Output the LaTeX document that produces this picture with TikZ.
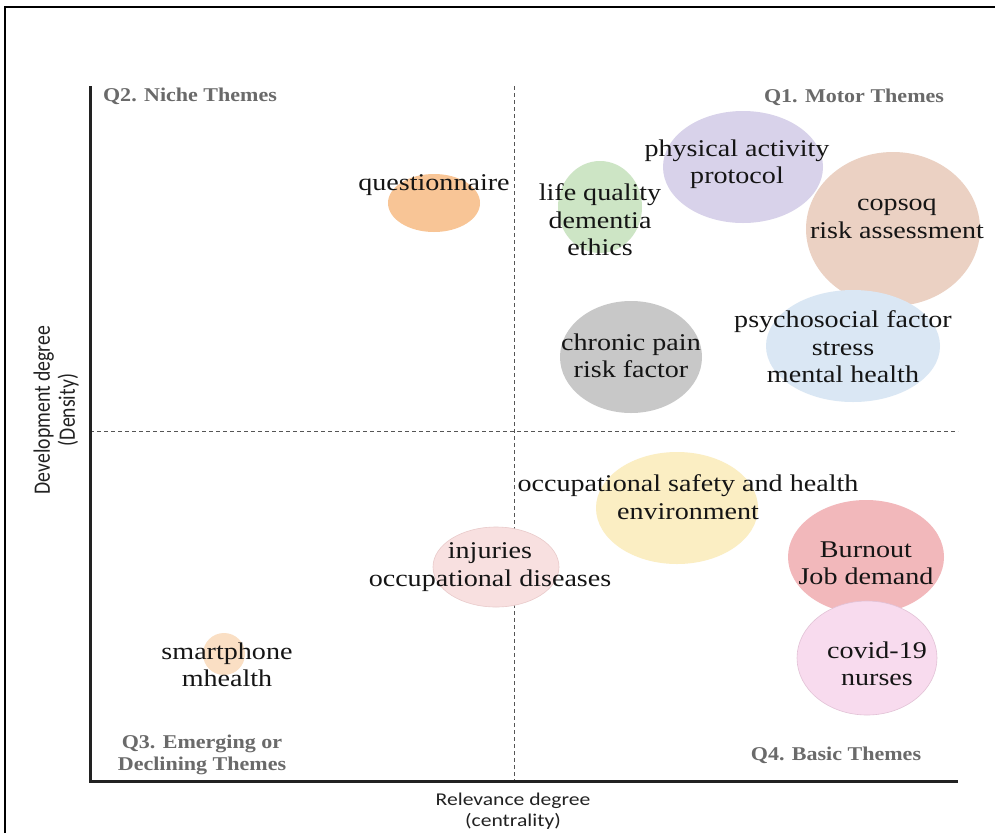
\documentclass[tikz,border=0pt]{standalone}
\usepackage{fontspec}
\setmainfont[FakeStretch=1.17]{Liberation Serif}
\newfontfamily\quadfont[FakeStretch=1.13]{Liberation Serif}
\newfontfamily\axisfont[FakeStretch=1.2]{Carlito}
\newfontfamily\axisfontr[FakeStretch=0.84]{Carlito}
\usetikzlibrary{shapes.geometric}
\definecolor{txt}{HTML}{151515}
\definecolor{quadgray}{HTML}{6A6A6A}
\definecolor{axisc}{HTML}{222222}
\definecolor{dashc}{HTML}{555555}
\definecolor{cQuest}{HTML}{F8C596}
\definecolor{cSmart}{HTML}{FADFC4}
\definecolor{cLife}{HTML}{CDE5C5}
\definecolor{cPhys}{HTML}{D8D2EA}
\definecolor{cCops}{HTML}{EBD1C3}
\definecolor{cPsy}{HTML}{DAE7F4}
\definecolor{cChron}{HTML}{C8C8C8}
\definecolor{cOcc}{HTML}{FBEEC3}
\definecolor{cInj}{HTML}{F8E0E0}
\definecolor{cInjB}{HTML}{E9CACA}
\definecolor{cBurn}{HTML}{F2B8BB}
\definecolor{cCov}{HTML}{F8DBEE}
\definecolor{cCovB}{HTML}{E2C2D6}
\begin{document}
\begin{tikzpicture}[x=1pt,y=-1pt,
  bubble/.style={ellipse, inner sep=0pt, draw=none},
  lbl/.style={align=center, text=txt, inner sep=0pt, font=\fontsize{24}{27.5}\selectfont},
  quad/.style={align=center, text=quadgray, inner sep=0pt, font=\quadfont\bfseries\fontsize{19.5}{22}\selectfont},
  axlbl/.style={align=center, text=axisc, inner sep=0pt, font=\axisfont\fontsize{18}{21}\selectfont},
  axlblr/.style={align=center, text=axisc, inner sep=0pt, rotate=90, font=\axisfontr\fontsize{23.5}{25}\selectfont},
  axisline/.style={line width=3pt, draw=axisc},
  dashline/.style={line width=0.9pt, draw=dashc, dash pattern=on 4pt off 3pt},
  frameline/.style={line width=2.5pt, draw=black}]
\useasboundingbox (0,0) rectangle (995,833);
\fill[white] (0,0) rectangle (995,833);

% frame (top and left edges)
\coordinate (fBL) at (5,833);
\coordinate (fTL) at (5,7);
\coordinate (fTR) at (995,7);
\draw[frameline] (fBL) -- (fTL) -- (fTR);

% axes
\coordinate (yTop) at (90,86);
\coordinate (orig) at (90,781);
\coordinate (xEnd) at (958,781);
\coordinate (vTop) at (514,86);
\coordinate (vBot) at (514,781);
\coordinate (hL) at (90,431);
\coordinate (hR) at (958,431);
\draw[dashline] (vTop) -- (vBot);
\draw[dashline] (hL) -- (hR);

% bubbles
\node[bubble, fill=cQuest, minimum width=92pt, minimum height=58pt] (bQuest) at (434,203) {};
\node[bubble, fill=cSmart, minimum width=42pt, minimum height=42pt] (bSmart) at (224,654) {};
\node[bubble, fill=cLife, minimum width=84pt, minimum height=92pt] (bLife) at (600,207) {};
\node[bubble, fill=cPhys, minimum width=160pt, minimum height=112pt] (bPhys) at (743,167) {};
\node[bubble, fill=cCops, minimum width=174pt, minimum height=154pt] (bCops) at (893,229) {};
\node[bubble, fill=cPsy, minimum width=174pt, minimum height=112pt] (bPsy) at (853,346) {};
\node[bubble, fill=cChron, minimum width=142pt, minimum height=112pt] (bChron) at (631,357) {};
\node[bubble, fill=cOcc, minimum width=162pt, minimum height=112pt] (bOcc) at (677,508) {};
\node[bubble, fill=cInj, draw=cInjB, line width=0.6pt, minimum width=126pt, minimum height=80pt] (bInj) at (496,567) {};
\node[bubble, fill=cBurn, minimum width=156pt, minimum height=114pt] (bBurn) at (866,557) {};
\node[bubble, fill=cCov, draw=cCovB, line width=0.6pt, minimum width=140pt, minimum height=114pt] (bCov) at (867,658) {};

% axes on top
\draw[axisline] (yTop) -- (orig) -- (xEnd);

% bubble labels
\node[lbl] (tQuest) at (434,185) {questionnaire};
\node[lbl] (tLife) at (600,220) {life quality\\dementia\\ethics};
\node[lbl] (tPhys) at (737,164) {physical activity\\protocol};
\node[lbl] (tCops) at (897,219) {copsoq\\risk assessment};
\node[lbl] (tPsy) at (843,347) {psychosocial factor\\stress\\mental health};
\node[lbl] (tChron) at (631,356) {chronic pain\\risk factor};
\node[lbl] (tOcc) at (688,497) {occupational safety and health\\environment};
\node[lbl] (tInj) at (490,567) {injuries\\occupational diseases};
\node[lbl] (tBurn) at (866,563) {Burnout\\Job demand};
\node[lbl] (tCov) at (877,664) {covid-19\\nurses};
\node[lbl] (tSmart) at (227,665) {smartphone\\mhealth};

% quadrant labels
\node[quad] (q2) at (190,96) {Q2. Niche Themes};
\node[quad] (q1) at (854,97) {Q1. Motor Themes};
\node[quad] (q3) at (202,755) {Q3. Emerging or\\Declining Themes};
\node[quad] (q4) at (836,755) {Q4. Basic Themes};

% axis labels
\node[axlbl] (xl) at (513,811) {Relevance degree\\(centrality)};
\node[axlblr] (yl) at (56,410) {Development degree\\(Density)};
\end{tikzpicture}
\end{document}
